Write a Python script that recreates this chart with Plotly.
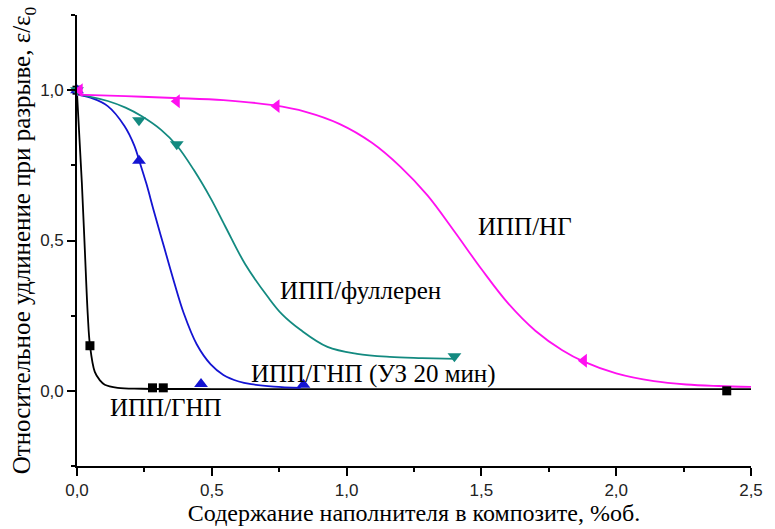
import plotly.graph_objects as go

# Filler content, vol.% (x) and relative elongation at break eps/eps0 (y)

# ИПП/ГНП — measured points and fitted curve
gnp_x = [0.0, 0.048, 0.28, 0.32, 2.41]
gnp_y = [1.0, 0.15, 0.01, 0.01, 0.0]
gnp_fit_x = [0.0, 0.018, 0.029, 0.040, 0.048, 0.066, 0.085, 0.103, 0.151, 0.239, 0.50, 1.0, 1.5, 2.0, 2.5]
gnp_fit_y = [0.99, 0.692, 0.470, 0.252, 0.152, 0.063, 0.035, 0.020, 0.010, 0.007, 0.006, 0.006, 0.006, 0.006, 0.006]

# ИПП/ГНП (УЗ 20 мин)
us_x = [0.0, 0.23, 0.46, 0.84]
us_y = [1.0, 0.765, 0.023, 0.02]
us_fit_x = [0.0, 0.05, 0.114, 0.176, 0.213, 0.231, 0.257, 0.286, 0.323, 0.360, 0.396, 0.444,
            0.496, 0.543, 0.60, 0.646, 0.73, 0.830]
us_fit_y = [0.985, 0.975, 0.947, 0.881, 0.815, 0.765, 0.690, 0.595, 0.478, 0.362, 0.258, 0.155,
            0.088, 0.053, 0.031, 0.022, 0.014, 0.010]

# ИПП/фуллерен
ful_x = [0.0, 0.23, 0.37, 1.40]
ful_y = [1.0, 0.90, 0.82, 0.115]
ful_fit_x = [0.0, 0.05, 0.114, 0.180, 0.239, 0.312, 0.371, 0.433, 0.496, 0.551, 0.624, 0.709,
             0.760, 0.830, 0.929, 1.039, 1.160, 1.280, 1.406]
ful_fit_y = [0.985, 0.978, 0.964, 0.942, 0.914, 0.868, 0.815, 0.735, 0.640, 0.545, 0.421, 0.311,
             0.255, 0.202, 0.146, 0.123, 0.113, 0.109, 0.106]

# ИПП/НГ
ng_x = [0.01, 0.37, 0.74, 1.88]
ng_y = [1.0, 0.963, 0.947, 0.10]
ng_fit_x = [0.0, 0.18, 0.36, 0.543, 0.727, 0.848, 0.973, 1.094, 1.20, 1.30, 1.40, 1.50,
            1.60, 1.70, 1.80, 1.88, 2.00, 2.14, 2.26, 2.38, 2.50]
ng_fit_y = [0.985, 0.980, 0.974, 0.967, 0.950, 0.928, 0.888, 0.825, 0.745, 0.650, 0.530, 0.405,
            0.290, 0.200, 0.135, 0.097, 0.058, 0.032, 0.021, 0.016, 0.013]

# Curve labels
label_text = ["ИПП/НГ", "ИПП/фуллерен", "ИПП/ГНП (УЗ 20 мин)", "ИПП/ГНП"]
label_x = [1.66, 1.05, 1.10, 0.33]
label_y = [0.546, 0.334, 0.056, -0.056]

SERIF = "'Liberation Serif', 'Times New Roman', 'DejaVu Serif', serif"
SANS = "'Liberation Sans', Arial, sans-serif"

BLACK = "#000000"
BLUE = "#1414D2"
TEAL = "#138A80"
MAGENTA = "#FF10F0"

series = [
    (gnp_fit_x, gnp_fit_y, gnp_x, gnp_y, BLACK, "square", 9),
    (us_fit_x, us_fit_y, us_x, us_y, BLUE, "triangle-up", 12),
    (ful_fit_x, ful_fit_y, ful_x, ful_y, TEAL, "triangle-down", 12),
    (ng_fit_x, ng_fit_y, ng_x, ng_y, MAGENTA, "triangle-left", 12),
]

fig = go.Figure()
for fx, fy, px, py, col, sym, sz in series:
    fig.add_trace(go.Scatter(
        x=fx, y=fy, mode="lines",
        line=dict(color=col, width=1.8, shape="spline", smoothing=1.0),
        hoverinfo="skip", showlegend=False,
    ))
for fx, fy, px, py, col, sym, sz in series:
    fig.add_trace(go.Scatter(
        x=px, y=py, mode="markers",
        marker=dict(color=col, symbol=sym, size=sz, line=dict(width=0)),
        cliponaxis=False, showlegend=False,
    ))

for t, x, y in zip(label_text, label_x, label_y):
    fig.add_annotation(
        x=x, y=y, text=t, showarrow=False,
        font=dict(family=SERIF, size=25, color="black"),
        xanchor="center", yanchor="middle",
    )

axis_common = dict(
    showgrid=False, zeroline=False, showline=True,
    linecolor="black", linewidth=1.6,
    ticks="outside", ticklen=8, tickwidth=1.6, tickcolor="black",
    tickfont=dict(family=SANS, size=17, color="#222"),
    tickformat=".1f",
    mirror=False,
)

fig.update_xaxes(
    **axis_common,
    range=[0, 2.5], tick0=0, dtick=0.5,
    minor=dict(dtick=0.25, tick0=0, ticks="outside", ticklen=4, tickwidth=1.6, tickcolor="black"),
    title=dict(text="Содержание наполнителя в композите, %об.",
               font=dict(family=SERIF, size=24, color="black"),
               standoff=0),
)
fig.update_yaxes(
    **axis_common,
    range=[-0.25, 1.25], tick0=0, dtick=0.5,
    minor=dict(dtick=0.25, tick0=0, ticks="outside", ticklen=4, tickwidth=1.6, tickcolor="black"),
    title=dict(text="Относительное удлинение при разрыве, ε/ε<sub>0</sub>",
               font=dict(family=SERIF, size=25, color="black"),
               standoff=2),
)

fig.update_layout(
    width=775, height=529,
    margin=dict(l=77, r=17, t=15, b=59),
    plot_bgcolor="white", paper_bgcolor="white",
    separators=", ",
    showlegend=False,
)

fig.write_html("out.html")
